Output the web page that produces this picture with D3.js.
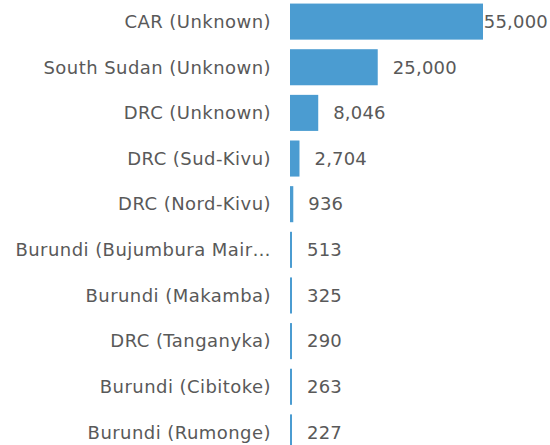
<!DOCTYPE html>
<html>
<head>
<meta charset="utf-8">
<script src="https://cdn.jsdelivr.net/npm/d3@7"></script>
<style>
  body { margin: 0; background: #fff; }
  text { font-family: "DejaVu Sans", Verdana, sans-serif; fill: #595959; }
</style>
</head>
<body>
<div id="chart"></div>
<script>
const categories = [
    "CAR (Unknown)",
    "South Sudan (Unknown)",
    "DRC (Unknown)",
    "DRC (Sud-Kivu)",
    "DRC (Nord-Kivu)",
    "Burundi (Bujumbura Mairie)",
    "Burundi (Makamba)",
    "DRC (Tanganyka)",
    "Burundi (Cibitoke)",
    "Burundi (Rumonge)"
];
const values = [55000, 25000, 8046, 2704, 936, 513, 325, 290, 263, 227];

const data = categories.map((c, i) => ({category: c, value: values[i]}));

const W = 550, H = 445;
const margin = {top: 0, right: 67, bottom: 0, left: 290};
const width = W - margin.left - margin.right;

const svg = d3.select("#chart")
    .append("svg")
    .attr("width", W)
    .attr("height", H)
    .append("g")
    .attr("transform", "translate(" + margin.left + "," + margin.top + ")");

const x = d3.scaleLinear()
    .domain([0, 55000])
    .range([0, width]);

const y = d3.scaleBand()
    .domain(categories)
    .range([-1, 455])
    .paddingInner(0.21)
    .paddingOuter(0.1);

svg.selectAll(".bar")
    .data(data)
    .enter()
    .append("rect")
    .attr("class", "bar")
    .attr("x", 0)
    .attr("y", d => y(d.category))
    .attr("height", y.bandwidth())
    .attr("width", d => Math.max(2, x(d.value)))
    .style("fill", "#4b9cd1");

// category labels, cut with an ellipsis when too long
const maxLabel = 256;
svg.selectAll(".cat")
    .data(data)
    .enter()
    .append("text")
    .attr("class", "cat")
    .attr("x", -19)
    .attr("y", d => y(d.category) + y.bandwidth() / 2)
    .attr("dy", ".35em")
    .attr("text-anchor", "end")
    .style("font-size", "18px")
    .style("letter-spacing", "0.45px")
    .text(d => d.category)
    .each(function(d) {
        const t = d3.select(this);
        let s = d.category;
        while (s.length > 1 && this.getComputedTextLength() > maxLabel) {
            s = s.slice(0, -1);
            t.text(s.trimEnd() + "…");
        }
    });

// value labels
svg.selectAll(".label")
    .data(data)
    .enter()
    .append("text")
    .attr("class", "label")
    .attr("y", d => y(d.category) + y.bandwidth() / 2)
    .attr("dy", ".35em")
    .style("font-size", "18px")
    .style("letter-spacing", "0.2px")
    .text(d => d3.format(",")(d.value))
    .attr("x", function(d) {
        const w = this.getComputedTextLength();
        const px = Math.max(2, x(d.value)) + 15;
        return Math.min(px, W - margin.left - 2 - w);
    });
</script>
</body>
</html>
